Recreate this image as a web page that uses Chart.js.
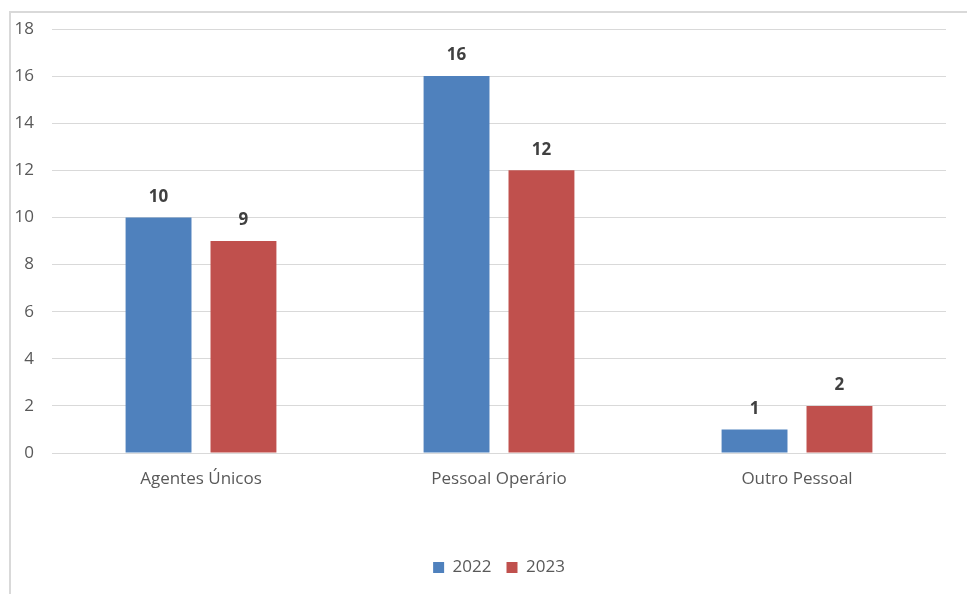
<!DOCTYPE html>
<html>
<head>
<meta charset="utf-8">
<script src="https://cdn.jsdelivr.net/npm/chart.js@4"></script>
<style>
  html, body { margin: 0; padding: 0; background: #fff; }
  #wrap { position: relative; width: 967px; height: 594px; }
</style>
</head>
<body>
<div id="wrap"><canvas id="grafico"></canvas></div>
<script>
const categorias = ['Agentes Únicos', 'Pessoal Operário', 'Outro Pessoal'];
const anos = ['2022', '2023'];
const valores2022 = [10, 16, 1];
const valores2023 = [9, 12, 2];
const cores = ['#4F81BD', '#C0504D'];

const fonte = "'Open Sans', 'Liberation Sans', sans-serif";

// moldura cinza clara (só topo e esquerda ficam visíveis)
const moldura = {
  id: 'moldura',
  beforeDraw(chart) {
    const ctx = chart.ctx;
    ctx.save();
    ctx.strokeStyle = '#d9d9d9';
    ctx.lineWidth = 2;
    ctx.beginPath();
    ctx.moveTo(10, chart.height);
    ctx.lineTo(10, 12);
    ctx.lineTo(chart.width, 12);
    ctx.stroke();
    ctx.restore();
  }
};

// valores por cima de cada barra
const rotulos = {
  id: 'rotulos',
  afterDatasetsDraw(chart) {
    const ctx = chart.ctx;
    ctx.save();
    ctx.font = 'bold 17px ' + fonte;
    ctx.fillStyle = '#404040';
    ctx.textAlign = 'center';
    ctx.textBaseline = 'bottom';
    chart.data.datasets.forEach((ds, i) => {
      chart.getDatasetMeta(i).data.forEach((bar, j) => {
        ctx.fillText(ds.data[j], bar.x, bar.y - 12);
      });
    });
    ctx.restore();
  }
};

new Chart(document.getElementById('grafico'), {
  type: 'bar',
  data: {
    labels: categorias,
    datasets: [
      { label: anos[0], data: valores2022, backgroundColor: cores[0] },
      { label: anos[1], data: valores2023, backgroundColor: cores[1] }
    ]
  },
  options: {
    responsive: true,
    maintainAspectRatio: false,
    animation: false,
    devicePixelRatio: 1,
    layout: { padding: { top: 29, right: 21, bottom: 8, left: 0 } },
    datasets: {
      bar: { categoryPercentage: 0.57, barPercentage: 0.776 }
    },
    scales: {
      x: {
        grid: { display: false },
        border: { display: false },
        ticks: { color: '#595959', font: { family: fonte, size: 17 }, padding: 8 },
        afterFit(scale) { scale.height = 91; }
      },
      y: {
        min: 0,
        max: 18,
        ticks: { stepSize: 2, color: '#595959', font: { family: fonte, size: 17 }, padding: 18 },
        grid: { color: '#d9d9d9', lineWidth: 1, drawTicks: false },
        border: { display: false },
        afterFit(scale) { scale.width = 52; }
      }
    },
    plugins: {
      legend: {
        position: 'bottom',
        fullSize: false,
        labels: {
          color: '#595959',
          font: { family: fonte, size: 17 },
          boxWidth: 11,
          boxHeight: 11,
          padding: 15
        }
      },
      tooltip: { enabled: false }
    }
  },
  plugins: [moldura, rotulos]
});
</script>
</body>
</html>
